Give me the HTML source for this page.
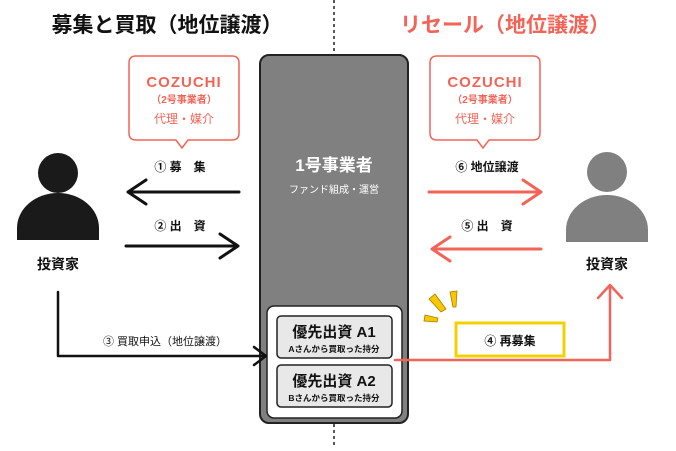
<!DOCTYPE html>
<html><head><meta charset="utf-8"><style>
body{margin:0;width:676px;height:446px;background:#fff;overflow:hidden;font-family:"Liberation Sans","Noto Sans CJK JP",sans-serif;}
</style></head><body>
<svg width="676" height="446" xmlns="http://www.w3.org/2000/svg" font-family="Liberation Sans, Noto Sans CJK JP, sans-serif">
<line x1="334" y1="0" x2="334" y2="55" stroke="#222" stroke-width="1.5" stroke-dasharray="3,3"/>
<line x1="334" y1="424" x2="334" y2="446" stroke="#222" stroke-width="1.5" stroke-dasharray="3,3"/>
<text x="167" y="32" text-anchor="middle" font-size="21" font-weight="bold" fill="#111">募集と買取（地位譲渡）</text>
<text x="505" y="32" text-anchor="middle" font-size="21" font-weight="bold" fill="#f26457">リセール（地位譲渡）</text>
<g fill="#fff" stroke="#f26457" stroke-width="1.5">
<path d="M136 56 H232 Q239 56 239 63 V133 Q239 140 232 140 H188 L182 148 L176 140 H136 Q129 140 129 133 V63 Q129 56 136 56 Z"/>
<path d="M437 56 H533 Q540 56 540 63 V133 Q540 140 533 140 H489 L483 148 L477 140 H437 Q430 140 430 133 V63 Q430 56 437 56 Z"/>
</g>
<g fill="#f26457" text-anchor="middle">
<text x="184" y="87" font-size="15" font-weight="bold" letter-spacing="1">COZUCHI</text>
<text x="184" y="103" font-size="10" font-weight="bold">（2号事業者）</text>
<text x="184" y="123" font-size="12">代理・媒介</text>
<text x="485" y="87" font-size="15" font-weight="bold" letter-spacing="1">COZUCHI</text>
<text x="485" y="103" font-size="10" font-weight="bold">（2号事業者）</text>
<text x="485" y="123" font-size="12">代理・媒介</text>
</g>
<rect x="260" y="55" width="148" height="368" rx="9" fill="#808080" stroke="#222" stroke-width="2"/>
<text x="334" y="171" text-anchor="middle" font-size="17" font-weight="bold" fill="#fff">1号事業者</text>
<text x="334" y="193" text-anchor="middle" font-size="10" fill="#fff">ファンド組成・運営</text>
<rect x="267" y="306" width="135" height="112" rx="7" fill="#fff" stroke="#222" stroke-width="1.5"/>
<rect x="277" y="316" width="115" height="42" rx="4" fill="#e8e8e8" stroke="#222" stroke-width="1.5"/>
<rect x="277" y="365" width="115" height="42" rx="4" fill="#e8e8e8" stroke="#222" stroke-width="1.5"/>
<g text-anchor="middle" fill="#111" font-weight="bold">
<text x="334" y="337" font-size="15">優先出資 A1</text>
<text x="334" y="352" font-size="8.5">Aさんから買取った持分</text>
<text x="334" y="386" font-size="15">優先出資 A2</text>
<text x="334" y="401" font-size="8.5">Bさんから買取った持分</text>
</g>
<circle cx="58" cy="173" r="20" fill="#1a1a1a"/>
<path d="M17 240 V228 A41 35 0 0 1 99 228 V240 Z" fill="#1a1a1a"/>
<text x="58" y="269" text-anchor="middle" font-size="14" font-weight="bold" fill="#111">投資家</text>
<circle cx="607" cy="172" r="20" fill="#808080"/>
<path d="M566 242 V230 A41 35 0 0 1 648 230 V242 Z" fill="#808080"/>
<text x="607" y="269" text-anchor="middle" font-size="14" font-weight="bold" fill="#111">投資家</text>
<g font-size="12" font-weight="bold" fill="#111" text-anchor="middle">
<text x="180" y="171">① 募　集</text>
<text x="180" y="230">② 出　資</text>
<text x="165" y="345" font-weight="normal" font-size="11">③ 買取申込（地位譲渡）</text>
<text x="487" y="171">⑥ 地位譲渡</text>
<text x="487" y="230">⑤ 出　資</text>
<text x="510" y="345">④ 再募集</text>
</g>
<g fill="none" stroke="#111" stroke-width="3" stroke-linecap="round" stroke-linejoin="round">
<path d="M239 192 H128 M146 180 L128 192 L146 204"/>
<path d="M126 246 H238 M220 234 L238 246 L220 258"/>
<path d="M58 292 V356 H266 M254 347 L266 356 L254 365" stroke-width="2.5"/>
</g>
<g fill="none" stroke="#f26457" stroke-width="3" stroke-linecap="round" stroke-linejoin="round">
<path d="M429 192 H541 M523 180 L541 192 L523 204"/>
<path d="M541 249 H432 M450 237 L432 249 L450 261"/>
<path d="M395 360 H610 V285 M598 298 L610 285 L622 298" stroke-width="2.5"/>
</g>
<rect x="456" y="323" width="108" height="33" fill="none" stroke="#f5d000" stroke-width="3"/>
<g fill="#f5c800" stroke="#b07a00" stroke-width="0.8">
<path d="M441 312 L429 299 L435 294 L446 309 Z"/>
<path d="M453 307 L450 292 L457 291 L456 307 Z"/>
<path d="M437 322 L424 321 L425 315 L438 318 Z"/>
</g>
</svg>
</body></html>
